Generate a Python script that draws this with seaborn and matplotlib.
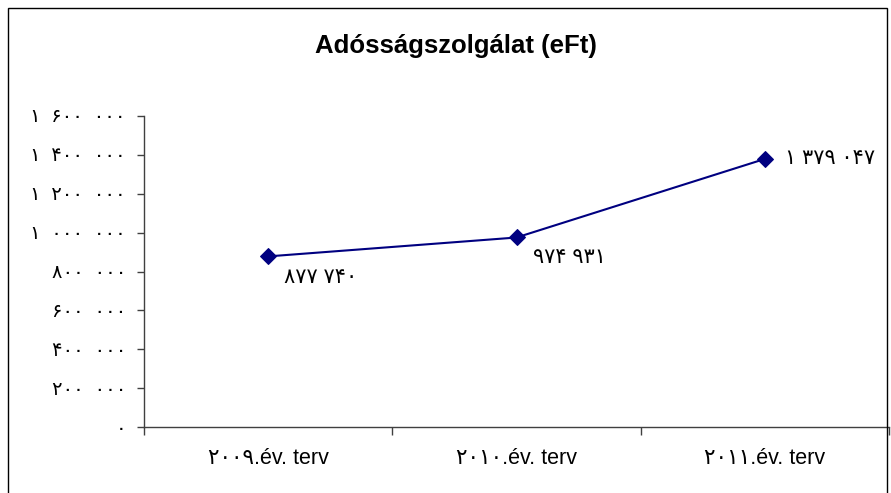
import matplotlib.pyplot as plt
import matplotlib.patches as patches
import seaborn as sns
import pandas as pd
import numpy as np

# data
years = ['2009', '2010', '2011']
values = [877740, 974931, 1379047]
y_ticks = [0, 200000, 400000, 600000, 800000, 1000000, 1200000, 1400000, 1600000]

FA = str.maketrans('0123456789', '۰۱۲۳۴۵۶۷۸۹')


def fa_num(v, sep=' '):
    s = '{:,}'.format(int(v)).replace(',', sep)
    return s.translate(FA)


labels = [y.translate(FA) + '.év. terv' for y in years]
df = pd.DataFrame({'cat': labels, 'value': values})

sns.set_style('white')
plt.rcParams['font.family'] = ['Liberation Sans', 'DejaVu Sans']
plt.rcParams['text.color'] = 'black'
plt.rcParams['xtick.color'] = 'black'
plt.rcParams['ytick.color'] = 'black'

fig = plt.figure(figsize=(8.91, 4.93), dpi=100)
ax = fig.add_axes([144 / 891, 1 - 427 / 493, 745 / 891, 311 / 493])

sns.lineplot(data=df, x='cat', y='value', color='#000080', marker='D',
             markersize=8, markeredgecolor='#000080', linewidth=1.5, ax=ax)

ax.set_xlim(-0.5, 2.5)
ax.set_ylim(0, 1600000)
ax.set_xlabel('')
ax.set_ylabel('')

ax.set_yticks(y_ticks)
ax.set_yticklabels([fa_num(v, '  ') for v in y_ticks], fontsize=14)
ax.set_xticks([-0.5, 0.5, 1.5, 2.5])
ax.set_xticklabels([])
ax.set_xticks([0, 1, 2], minor=True)
ax.set_xticklabels(labels, minor=True, fontsize=15.5)
ax.tick_params(axis='x', which='major', bottom=True, direction='out', length=6,
               width=1, color='#404040')
ax.tick_params(axis='x', which='minor', bottom=True, length=0, pad=15)
ax.tick_params(axis='y', left=True, direction='out', length=5, width=1,
               color='#404040', pad=8)

for s in ['top', 'right']:
    ax.spines[s].set_visible(False)
for s in ['left', 'bottom']:
    ax.spines[s].set_color('#404040')
    ax.spines[s].set_linewidth(1)

# data labels
offsets = [(11.5, -15), (12, -14.5), (14.5, 0)]
for i, v in enumerate(values):
    ax.annotate(fa_num(v), (i, v), xytext=offsets[i], textcoords='offset points',
                ha='left', va='center', fontsize=15)

fig.text(456 / 891, 1 - 46 / 493, 'Adósságszolgálat (eFt)', ha='center', va='center',
         fontsize=18.5, fontweight='bold')

# outer frame
fig.patches.append(patches.Rectangle((8 / 891, -0.05), 879 / 891, 1 - 8 / 493 + 0.05,
                                     transform=fig.transFigure, fill=False,
                                     edgecolor='black', linewidth=1))

fig.savefig('out.png', dpi=100)
